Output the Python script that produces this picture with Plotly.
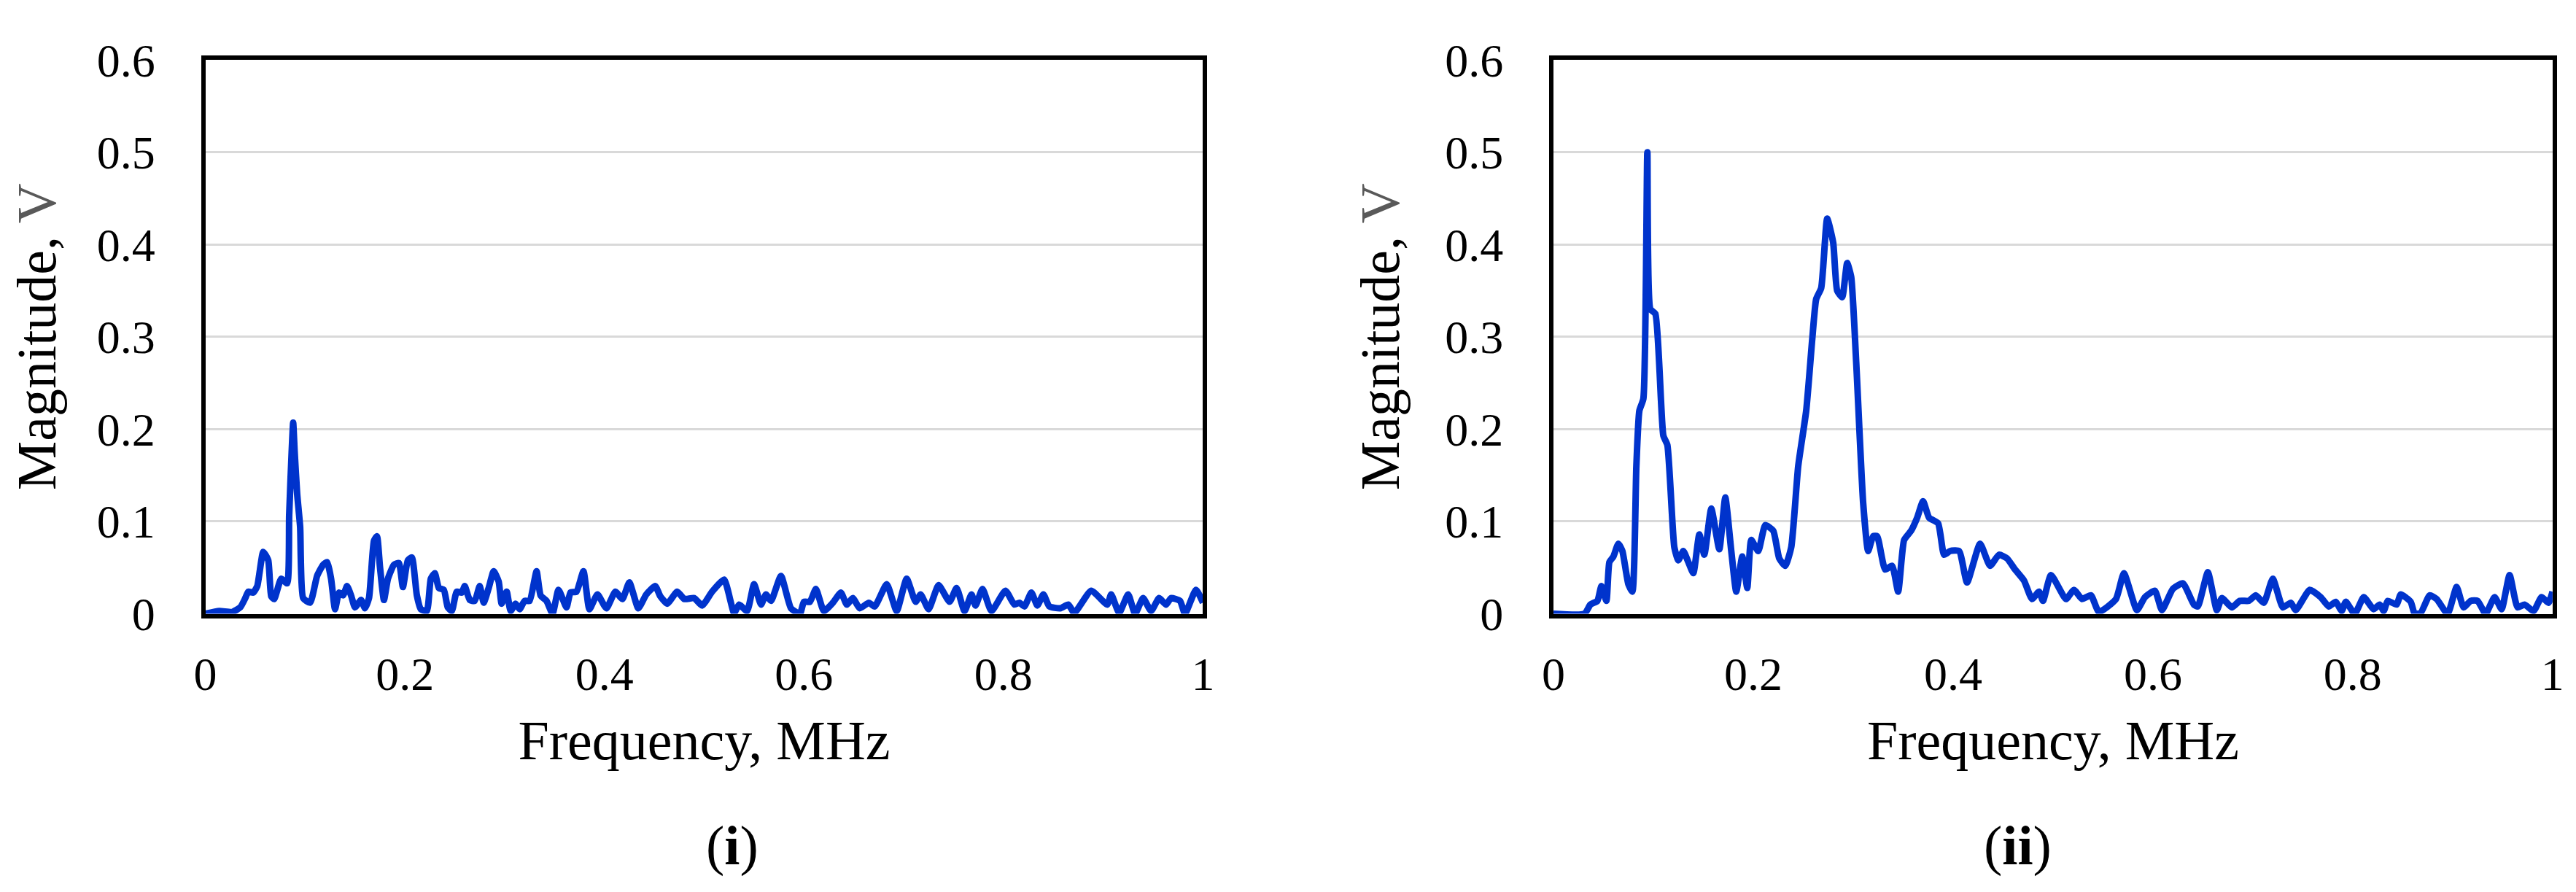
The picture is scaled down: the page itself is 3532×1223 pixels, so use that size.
import plotly.graph_objects as go

f1 = [0,.014,.027,.035,.04,.043,.048,.052,.058,.063,.066,.069,.076,.082,.084,.0865,.088,.0895,.092,.095,.098,.105,.112,.118,.122,.126,.13,.134,.138,.142,.146,.15,.156,.16,.164,.169,.172,.175,.179,.183,.189,.194,.198,.203,.207,.212,.216,.222,.226,.23,.234,.239,.243,.247,.252,.257,.26,.265,.27,.275,.279,.284,.289,.294,.297,.302,.306,.311,.315,.32,.325,.332,.336,.342,.348,.354,.362,.366,.372,.379,.385,.393,.402,.411,.418,.425,.434,.442,.451,.456,.463,.473,.48,.49,.498,.508,.52,.53,.535,.543,.55,.557,.562,.567,.577,.587,.596,.6,.606,.612,.62,.629,.637,.643,.649,.656,.665,.671,.683,.693,.703,.712,.717,.725,.735,.746,.753,.761,.768,.772,.779,.788,.802,.811,.816,.821,.828,.834,.84,.846,.857,.865,.871,.888,.904,.908,.916,.925,.932,.94,.948,.956,.963,.968,.977,.982,.993,1.0]
m1 = [0,.003,.002,.007,.017,.024,.023,.03,.067,.058,.019,.016,.038,.033,.107,.175,.207,.175,.13,.094,.017,.012,.041,.053,.056,.038,.005,.023,.02,.03,.02,.007,.015,.006,.017,.079,.084,.051,.015,.038,.053,.055,.029,.058,.061,.02,.005,.003,.038,.044,.028,.026,.007,.003,.024,.023,.03,.015,.014,.03,.012,.028,.046,.035,.011,.024,.003,.011,.005,.014,.014,.046,.02,.014,0,.026,.007,.023,.024,.046,.005,.021,.006,.024,.016,.034,.006,.021,.03,.019,.011,.024,.016,.017,.009,.024,.037,.001,.01,.003,.032,.01,.021,.014,.041,.006,0,.013,.013,.027,.003,.012,.023,.01,.017,.006,.012,.008,.032,.003,.038,.013,.021,.005,.031,.013,.028,.003,.021,.009,.027,.003,.025,.01,.012,.008,.023,.009,.021,.008,.006,.01,.001,.025,.01,.021,.001,.021,0,.017,.003,.017,.01,.017,.014,0,.026,.012]

f2 = [0,.031,.037,.044,.048,.053,.056,.06,.065,.069,.075,.079,.083,.086,.09,.094,.097,.102,.11,.114,.121,.125,.13,.135,.14,.146,.151,.158,.166,.172,.178,.183,.189,.194,.198,.205,.212,.22,.226,.232,.238,.245,.253,.259,.263,.268,.274,.28,.284,.289,.294,.298,.303,.31,.315,.32,.324,.332,.339,.345,.351,.358,.364,.37,.376,.385,.391,.397,.406,.414,.427,.437,.446,.454,.462,.471,.479,.486,.49,.498,.513,.521,.529,.538,.546,.563,.571,.584,.592,.602,.609,.62,.63,.641,.645,.655,.664,.669,.679,.687,.696,.703,.711,.72,.73,.738,.743,.757,.768,.776,.783,.789,.793,.802,.811,.821,.827,.831,.835,.844,.848,.858,.862,.868,.877,.884,.895,.904,.911,.918,.925,.933,.942,.949,.957,.965,.972,.981,.989,.996,1.0]
m2 = [0,0,.01,.014,.03,.014,.056,.062,.076,.068,.032,.024,.16,.22,.233,.5,.33,.325,.193,.183,.072,.058,.068,.056,.044,.086,.064,.114,.07,.126,.068,.024,.062,.028,.08,.068,.096,.09,.06,.052,.072,.16,.22,.297,.341,.353,.428,.402,.35,.343,.38,.365,.273,.12,.068,.084,.084,.048,.052,.024,.08,.09,.104,.122,.104,.098,.064,.068,.068,.034,.076,.052,.064,.06,.048,.036,.016,.024,.014,.042,.016,.026,.016,.02,.002,.016,.044,.004,.018,.025,.004,.027,.033,.01,.008,.045,.004,.017,.007,.014,.014,.02,.012,.038,.007,.012,.004,.026,.018,.008,.013,.003,.013,0,.018,.005,.01,.003,.014,.01,.021,.013,0,.001,.02,.016,0,.029,.007,.014,.014,0,.018,.005,.042,.007,.01,.003,.018,.012,.024]

x_ticks = [0, 0.2, 0.4, 0.6, 0.8, 1]
x_labels = ["0", "0.2", "0.4", "0.6", "0.8", "1"]
y_ticks = [0, 0.1, 0.2, 0.3, 0.4, 0.5, 0.6]
y_labels = ["0", "0.1", "0.2", "0.3", "0.4", "0.5", "0.6"]
panel_labels = ["(<b>i</b>)", "(<b>ii</b>)"]

FONT = "Liberation Serif"
BLUE = "#0033CC"

fig = go.Figure()
fig.add_trace(go.Scatter(x=f1, y=m1, mode="lines", line=dict(color=BLUE, width=9, shape="spline", smoothing=0.5), xaxis="x", yaxis="y"))
fig.add_trace(go.Scatter(x=f2, y=m2, mode="lines", line=dict(color=BLUE, width=9, shape="spline", smoothing=0.5), xaxis="x2", yaxis="y2"))

ydom = [0.3068, 0.966]
xdoms = [[0.0736, 0.4644], [0.6017, 0.9931]]

def xa(dom, anchor):
    return dict(domain=dom, anchor=anchor, range=[0, 1], tickvals=x_ticks, ticktext=x_labels,
                showgrid=False, zeroline=False, showline=True, linecolor="black", linewidth=6, mirror=True,
                ticks="", ticklabelstandoff=22, tickfont=dict(family=FONT, size=64, color="black"),
                title=dict(text="Frequency, MHz", font=dict(family=FONT, size=76, color="black"), standoff=30))

def ya(anchor):
    return dict(domain=ydom, anchor=anchor, range=[0, 0.6], tickvals=y_ticks, ticktext=y_labels,
                showgrid=True, gridcolor="#D9D9D9", gridwidth=3, zeroline=False,
                showline=True, linecolor="black", linewidth=6, mirror=True,
                ticks="", ticklabelstandoff=50, tickfont=dict(family=FONT, size=64, color="black"),
                title=dict(text='Magnitude, <span style="color:#595959">V</span>', font=dict(family=FONT, size=76, color="black"), standoff=40))

fig.update_layout(
    width=3532, height=1223, showlegend=False,
    paper_bgcolor="white", plot_bgcolor="white",
    margin=dict(l=0, r=0, t=0, b=0),
    xaxis=xa(xdoms[0], "y"), yaxis=ya("x"),
    xaxis2=xa(xdoms[1], "y2"), yaxis2=ya("x2"),
)
for dom, lab in zip(xdoms, panel_labels):
    fig.add_annotation(text=lab, x=(dom[0] + dom[1]) / 2, y=1 - 1185 / 1223, xref="paper", yref="paper",
                       showarrow=False, font=dict(family=FONT, size=76, color="black"), yanchor="middle")

fig.write_html("out.html")
